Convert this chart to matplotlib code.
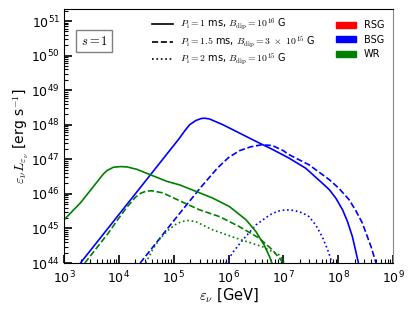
import matplotlib
matplotlib.use("Agg")
import matplotlib.pyplot as plt
import matplotlib.patches as mpatches
from matplotlib.lines import Line2D
import numpy as np

plt.rcParams['mathtext.fontset'] = 'cm'

# log10(E/GeV), log10(L / erg s^-1)
# BSG, P_i = 1 ms
bsg1_x = [3.30, 4.0, 4.5, 5.0, 5.1, 5.2, 5.29, 5.4, 5.5, 5.56, 5.65, 5.9, 6.2, 6.5, 6.81, 7.11, 7.41, 7.71, 7.84, 7.96, 8.08, 8.17, 8.26, 8.37]
bsg1_y = [44.0, 45.4, 46.4, 47.4, 47.6, 47.82, 48.0, 48.12, 48.18, 48.19, 48.17, 48.0, 47.76, 47.52, 47.28, 47.03, 46.74, 46.31, 46.12, 45.87, 45.54, 45.2, 44.76, 44.0]
# BSG, P_i = 1.5 ms
bsg2_x = [4.39, 5.0, 5.5, 5.8, 6.0, 6.2, 6.4, 6.6, 6.8, 7.0, 7.11, 7.47, 7.84, 8.02, 8.2, 8.32, 8.44, 8.6, 8.69]
bsg2_y = [44.0, 45.22, 46.2, 46.75, 47.05, 47.25, 47.36, 47.42, 47.40, 47.25, 47.13, 46.84, 46.41, 46.15, 45.83, 45.52, 45.16, 44.47, 44.0]
# BSG, P_i = 2 ms
bsg3_x = [5.95, 6.1, 6.26, 6.5, 6.75, 6.9, 7.05, 7.2, 7.35, 7.47, 7.59, 7.71, 7.81, 7.87, 7.9]
bsg3_y = [44.0, 44.35, 44.67, 45.1, 45.39, 45.5, 45.54, 45.52, 45.45, 45.34, 45.10, 44.76, 44.38, 44.09, 44.0]

# WR, P_i = 1 ms
wr1_x = [3.0, 3.3, 3.61, 3.72, 3.79, 3.9, 4.03, 4.15, 4.33, 4.58, 4.88, 5.11, 5.41, 5.71, 6.02, 6.32, 6.5, 6.65, 6.75, 6.79]
wr1_y = [45.25, 45.74, 46.36, 46.58, 46.68, 46.77, 46.79, 46.78, 46.71, 46.55, 46.36, 46.26, 46.07, 45.88, 45.63, 45.25, 44.91, 44.52, 44.18, 44.0]
# WR, P_i = 1.5 ms
wr2_x = [3.38, 3.8, 4.0, 4.15, 4.3, 4.4, 4.5, 4.6, 4.8, 5.11, 5.47, 5.84, 6.2, 6.56, 6.8, 6.98]
wr2_y = [44.0, 44.85, 45.3, 45.62, 45.9, 46.02, 46.08, 46.09, 46.03, 45.8, 45.54, 45.34, 45.05, 44.72, 44.38, 44.04]
# WR, P_i = 2 ms
wr3_x = [4.49, 4.62, 4.75, 4.9, 5.05, 5.15, 5.25, 5.4, 5.71, 6.14, 6.62, 6.93, 7.02]
wr3_y = [44.0, 44.4, 44.7, 44.95, 45.13, 45.2, 45.23, 45.2, 44.96, 44.72, 44.47, 44.23, 44.0]

line_labels = [r'$P_{\rm i} = 1$ ms, $B_{\rm dip} = 10^{16}$ G',
               r'$P_{\rm i} = 1.5$ ms, $B_{\rm dip} = 3\ \times\ 10^{15}$ G',
               r'$P_{\rm i} = 2$ ms, $B_{\rm dip} = 10^{15}$ G']
progenitors = ['RSG', 'BSG', 'WR']
prog_colors = ['red', 'blue', 'green']

fig = plt.figure(figsize=(4.15, 3.11), dpi=100)
ax = fig.add_axes([64/415, 48/311, 329/415, 254/311])

lw = 1.2
for xs, ys, ls in [(bsg1_x, bsg1_y, '-'), (bsg2_x, bsg2_y, '--'), (bsg3_x, bsg3_y, ':')]:
    ax.plot(10**np.array(xs), 10**np.array(ys), color='blue', ls=ls, lw=lw)
for xs, ys, ls in [(wr1_x, wr1_y, '-'), (wr2_x, wr2_y, '--'), (wr3_x, wr3_y, ':')]:
    ax.plot(10**np.array(xs), 10**np.array(ys), color='green', ls=ls, lw=lw)

ax.set_xscale('log')
ax.set_yscale('log')
ax.set_xlim(1e3, 1e9)
ax.set_ylim(1e44, 10**51.35)
ax.set_xticks([10.0**k for k in range(3, 10)])
ax.set_yticks([10.0**k for k in range(44, 52)])
ax.tick_params(which='both', direction='in', top=False, right=False, labelsize=9)
ax.tick_params(which='major', length=6, width=1.2)
ax.tick_params(axis='x', which='major', pad=4.5)
ax.tick_params(axis='y', which='major', pad=3)
ax.tick_params(which='minor', length=3, width=0.8)
ax.spines['right'].set_color('#888888')

ax.set_xlabel(r'$\varepsilon_\nu$ [GeV]', fontsize=10.5, labelpad=0)
ax.set_ylabel(r'$\varepsilon_\nu L_{\varepsilon_\nu}$ [erg s$^{-1}$]', fontsize=10, labelpad=0)

ax.text(0.092, 0.873, r'$s = 1$', transform=ax.transAxes, fontsize=9,
        ha='center', va='center',
        bbox=dict(facecolor='white', edgecolor='gray', boxstyle='square,pad=0.35'))

handles1 = [Line2D([], [], color='black', ls=ls, lw=lw) for ls in ['-', '--', ':']]
leg1 = ax.legend(handles1, line_labels, loc='upper left', bbox_to_anchor=(0.245, 1.0),
                 frameon=False, fontsize=7, labelspacing=0.25, handlelength=2.1,
                 handletextpad=0.7, borderaxespad=0.4)
ax.add_artist(leg1)

handles2 = [mpatches.Patch(color=c) for c in prog_colors]
ax.legend(handles2, progenitors, loc='upper right', bbox_to_anchor=(1.0, 0.99),
          frameon=False, fontsize=7, labelspacing=0.45, handlelength=2.1,
          handleheight=0.6, handletextpad=0.8)

fig.savefig('out.png', dpi=100)
